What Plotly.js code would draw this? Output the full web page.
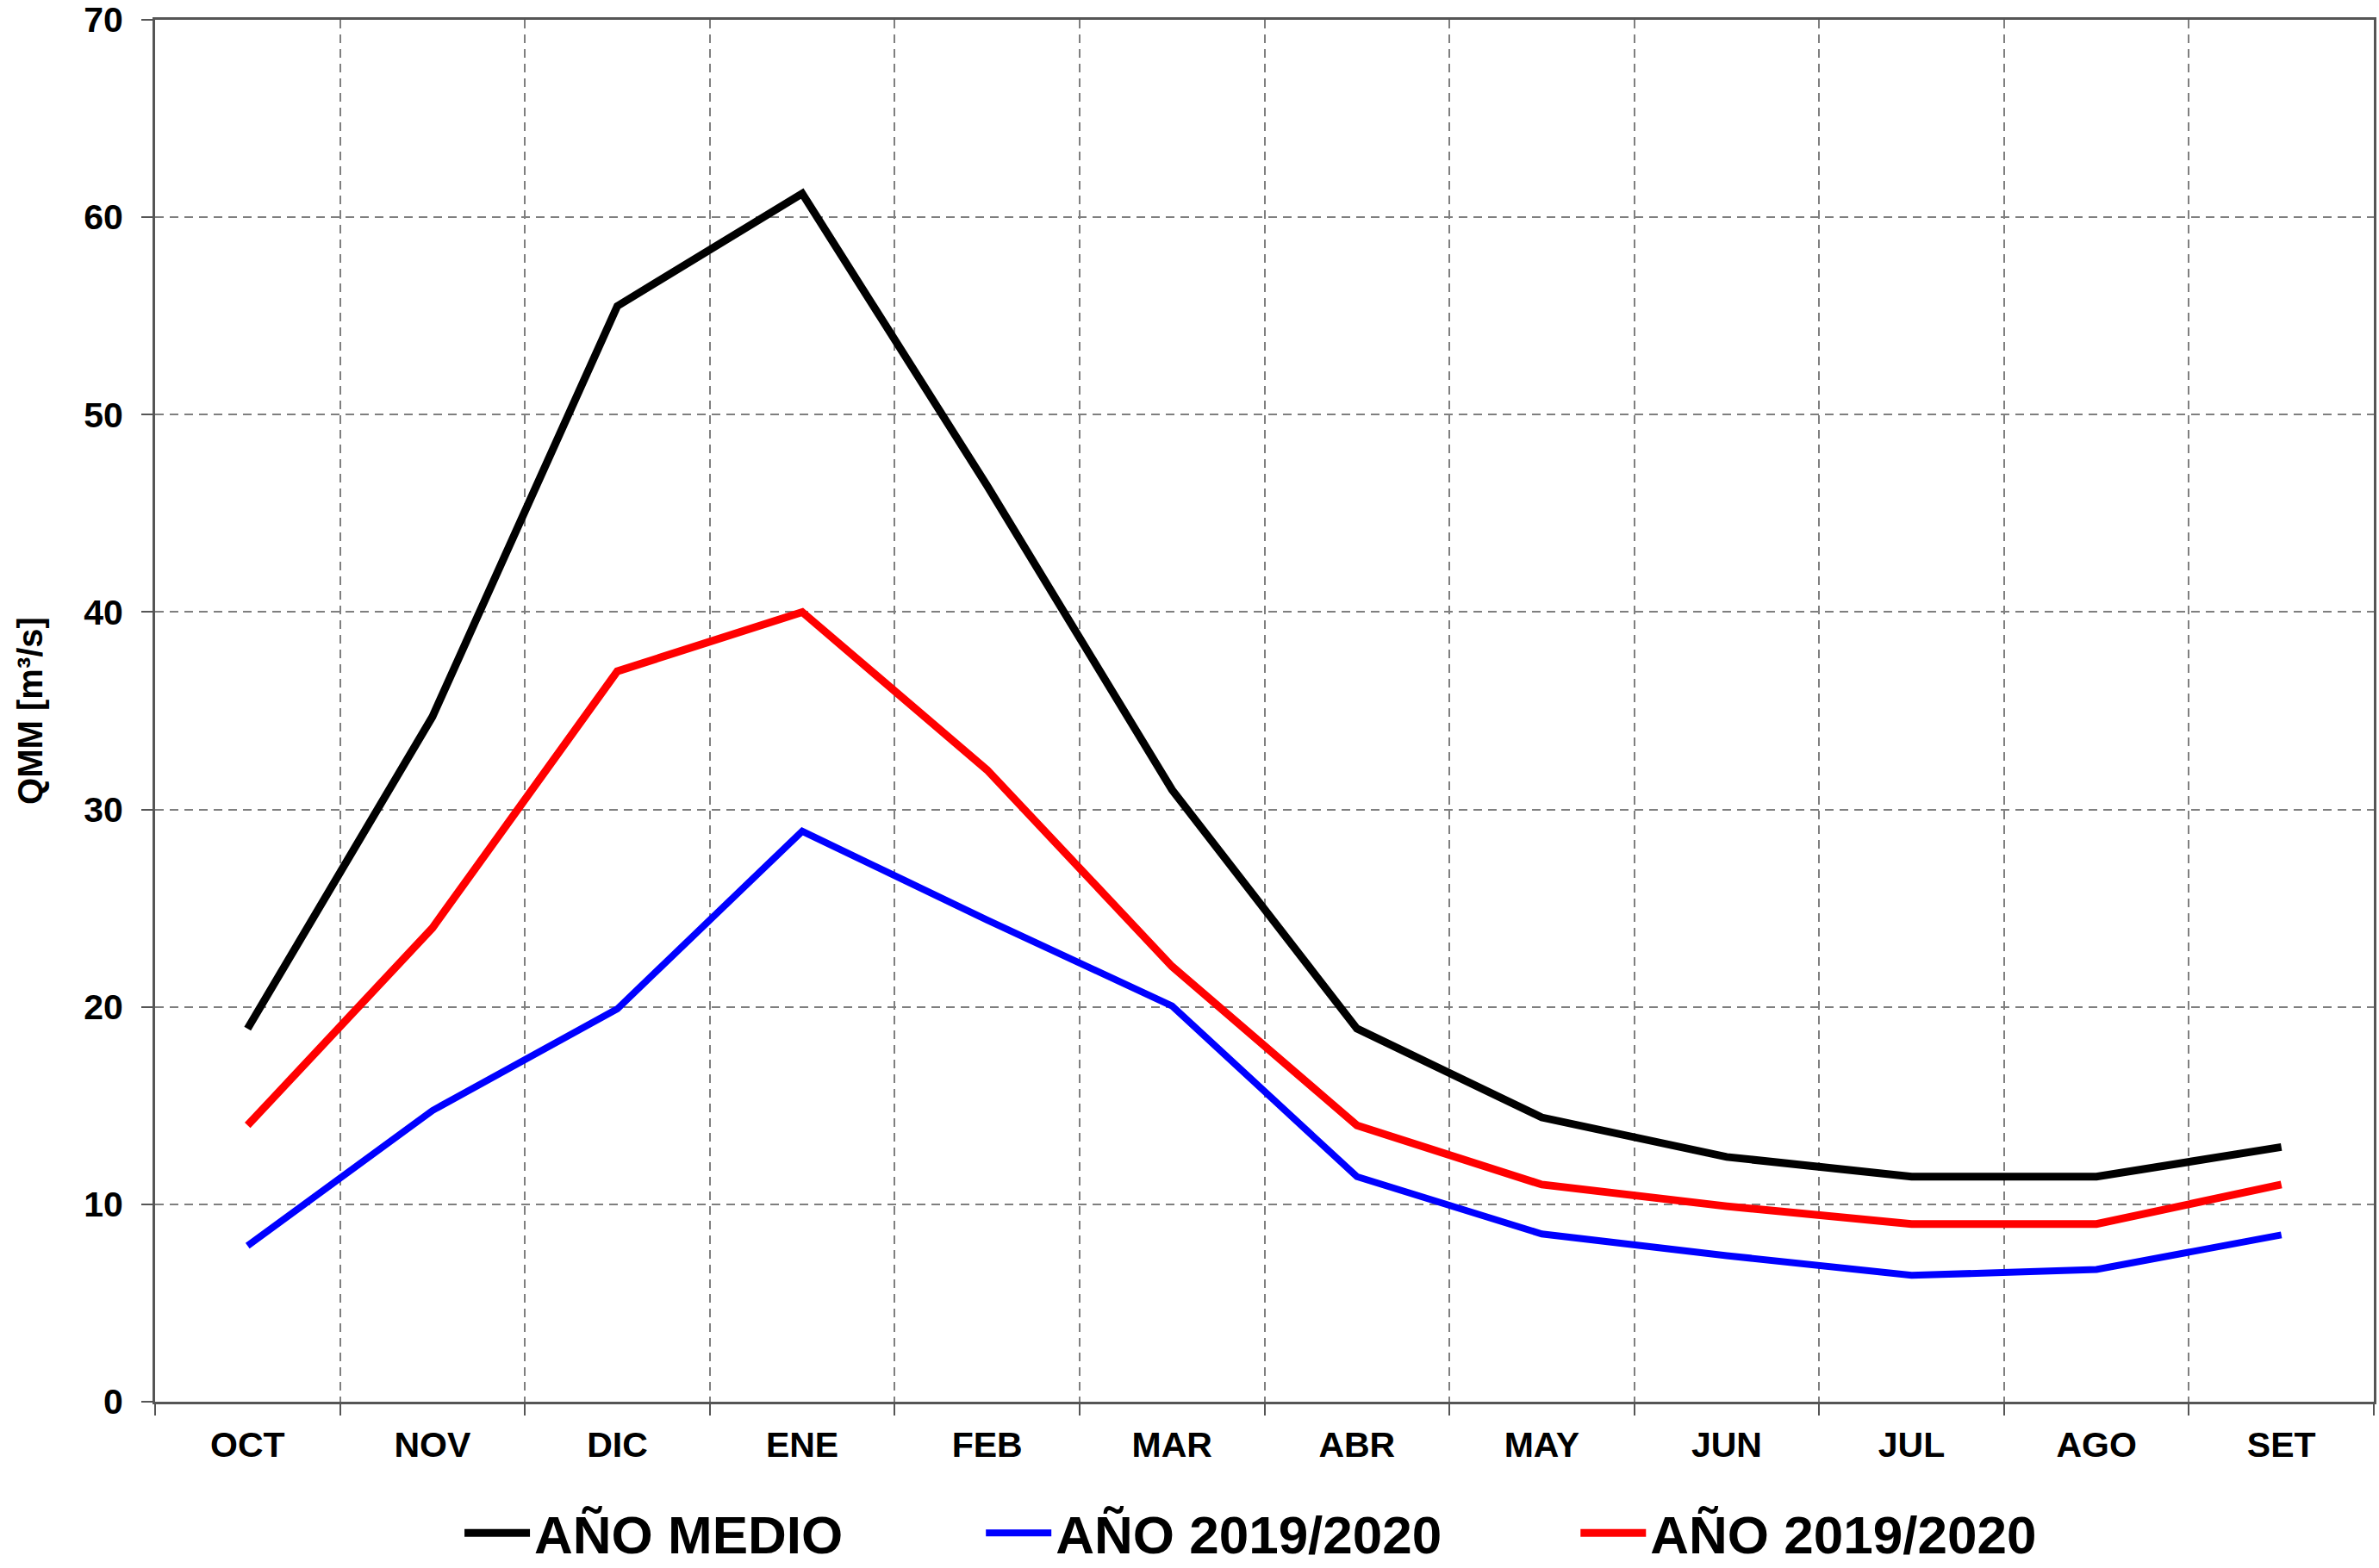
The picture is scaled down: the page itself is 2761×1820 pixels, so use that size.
<!DOCTYPE html>
<html>
<head>
<meta charset="utf-8">
<script src="https://cdn.plot.ly/plotly-3.0.1.min.js"></script>
<style>html,body{margin:0;padding:0;background:#fff;}#chart{width:2761px;height:1820px;}</style>
</head>
<body>
<div id="chart"></div>
<script>
const months = ["OCT","NOV","DIC","ENE","FEB","MAR","ABR","MAY","JUN","JUL","AGO","SET"];
const anoMedio = [18.9, 34.7, 55.5, 61.2, 46.4, 31.0, 18.9, 14.4, 12.4, 11.4, 11.4, 12.9];
const ano2019a = [7.9, 14.75, 19.9, 28.9, 24.4, 20.05, 11.4, 8.5, 7.4, 6.4, 6.7, 8.45];
const ano2019b = [14.0, 24.0, 37.0, 40.0, 32.0, 22.05, 14.0, 11.0, 9.9, 9.0, 9.0, 11.0];
const seriesNames = ["AÑO MEDIO", "AÑO 2019/2020", "AÑO 2019/2020"];
const yTitle = "QMM [m³/s]";

const FONT = "Arial, 'Liberation Sans', Helvetica, sans-serif";

const traces = [
  {x: months, y: anoMedio, name: seriesNames[0], type: "scatter", mode: "lines",
   line: {color: "#000000", width: 9}, legend: "legend"},
  {x: months, y: ano2019a, name: seriesNames[1], type: "scatter", mode: "lines",
   line: {color: "#0000FF", width: 8}, legend: "legend2"},
  {x: months, y: ano2019b, name: seriesNames[2], type: "scatter", mode: "lines",
   line: {color: "#FF0000", width: 9}, legend: "legend3"}
];

function leg(x) {
  return {
    orientation: "h", x: x, xanchor: "left", y: -0.095, yanchor: "middle",
    font: {family: FONT, size: 62, color: "#000", weight: "bold"},
    itemwidth: 76, bgcolor: "rgba(0,0,0,0)", borderwidth: 0
  };
}

const layout = {
  width: 2761, height: 1820,
  paper_bgcolor: "#ffffff", plot_bgcolor: "#ffffff",
  margin: {l: 180, r: 6, t: 23, b: 193, autoexpand: false},
  font: {family: FONT, color: "#000", weight: "bold"},
  showlegend: true,
  legend: leg(0.1375),
  legend2: leg(0.3725),
  legend3: leg(0.6405),
  xaxis: {
    type: "category",
    range: [-0.5, 11.5],
    tickson: "boundaries",
    showgrid: true, gridcolor: "#7f7f7f", gridwidth: 2, griddash: "10px,7px",
    showline: true, linecolor: "#555555", linewidth: 3, mirror: true,
    ticks: "outside", ticklen: 13, tickwidth: 2, tickcolor: "#555555",
    tickfont: {family: FONT, size: 41, color: "#000", weight: "bold"},
    ticklabelstandoff: 12,
    zeroline: false,
    fixedrange: true
  },
  yaxis: {
    range: [0, 70], dtick: 10, tick0: 0,
    showgrid: true, gridcolor: "#7f7f7f", gridwidth: 2, griddash: "10px,7px",
    showline: true, linecolor: "#555555", linewidth: 3, mirror: true,
    ticks: "outside", ticklen: 13, tickwidth: 2, tickcolor: "#555555",
    tickfont: {family: FONT, size: 41, color: "#000", weight: "bold"},
    ticklabelstandoff: 13,
    zeroline: false,
    title: {text: yTitle, font: {family: FONT, size: 40, color: "#000", weight: "bold"}, standoff: 36},
    fixedrange: true
  }
};

Plotly.newPlot("chart", traces, layout, {displayModeBar: false, staticPlot: true});
</script>
</body>
</html>
